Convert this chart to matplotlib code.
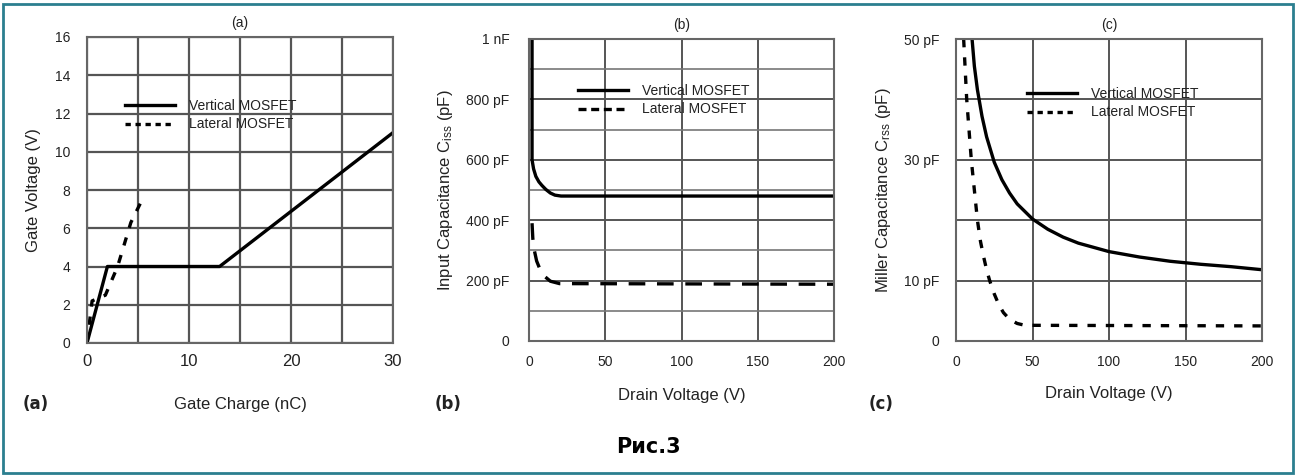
import matplotlib
matplotlib.use("Agg")
import matplotlib.pyplot as plt
from matplotlib.patches import Rectangle
from matplotlib.lines import Line2D

plt.rcParams['font.family'] = ['Liberation Sans Narrow', 'Liberation Sans', 'DejaVu Sans']
plt.rcParams['mathtext.default'] = 'regular'

# (a) gate charge curves
qg_vert = [0, 2, 13, 30]
vg_vert = [0, 4, 4, 11]
qg_lat = [0, 0.5, 1.8, 3.0, 4.3, 5.6]
vg_lat = [0, 2.2, 2.5, 4.0, 6.3, 7.7]

# (b) input capacitance
vd_b_vert = [2, 2, 3, 4.5, 6.5, 8.5, 11, 14, 17, 21, 200]
ciss_vert = [1000, 600, 570, 545, 527, 515, 502, 490, 483, 480, 480]
vd_b_lat = [2, 2.5, 3.5, 5, 7, 10, 14, 20, 200]
ciss_lat = [390, 340, 300, 265, 240, 215, 198, 190, 188]

# (c) miller capacitance
vd_c_vert = [10.5, 12, 14, 17, 20, 25, 30, 35, 40, 50, 60, 70, 80, 100,
             120, 140, 160, 180, 200]
crss_vert = [50, 45.5, 41.6, 37.2, 33.8, 29.6, 26.7, 24.5, 22.7, 20.2, 18.5,
             17.2, 16.2, 14.8, 13.9, 13.2, 12.7, 12.3, 11.8]
vd_c_lat = [5, 6, 7, 8.5, 10, 12, 14, 16, 18, 20, 22, 25, 28, 31, 35, 40, 45, 200]
crss_lat = [50, 45, 40, 35, 30, 25, 20, 16.5, 14, 11.8, 10, 7.8, 6, 4.7, 3.6,
            2.9, 2.6, 2.5]

legend_labels = ['Vertical MOSFET', 'Lateral MOSFET']

W, H = 1296, 475
fig = plt.figure(figsize=(W / 100, H / 100), dpi=100)
fig.patch.set_facecolor('white')

txt = '#222222'
gridc = '#555555'


def make_axes(x0, x1, y_top, y_bot):
    ax = fig.add_axes([x0 / W, 1 - y_bot / H, (x1 - x0) / W, (y_bot - y_top) / H])
    for s in ax.spines.values():
        s.set_color('#666666')
        s.set_linewidth(1.5)
    ax.tick_params(length=0, colors=txt, labelsize=10)
    ax.set_axisbelow(True)
    return ax


def add_legend(ax, bx, by, dash):
    handles = [Line2D([], [], color='black', lw=2.4),
               Line2D([], [], color='black', lw=2.4, linestyle=dash)]
    ax.legend(handles, legend_labels, loc='center left', bbox_to_anchor=(bx, by),
              frameon=False, fontsize=10, handlelength=3.6, handletextpad=1.0,
              borderpad=0, borderaxespad=0, labelspacing=0.35, labelcolor=txt)


# ---- (a) ----
ax1 = make_axes(87, 393, 37, 343)
ax1.plot(qg_vert, vg_vert, color='black', lw=2.4)
ax1.plot(qg_lat, vg_lat, color='black', lw=2.4, linestyle=(0, (2.5, 3)))
ax1.set_xlim(0, 30)
ax1.set_ylim(0, 16)
ax1.set_xticks([0, 10, 20, 30])
ax1.set_xticks([5, 15, 25], minor=True)
ax1.set_yticks(range(0, 17, 2))
ax1.tick_params(axis='x', labelsize=12, pad=8)
ax1.tick_params(axis='x', which='minor', length=0)
ax1.tick_params(axis='y', pad=12)
ax1.grid(True, which='both', color=gridc, lw=1.6)
ax1.set_xlabel('Gate Charge (nC)', fontsize=12, color=txt, labelpad=20)
ax1.set_ylabel('Gate Voltage (V)', fontsize=12, color=txt, labelpad=10)
ax1.set_title('(a)', fontsize=10, color=txt, pad=7)
add_legend(ax1, 0.124, 0.745, (0, (1.6, 1.4)))

# ---- (b) ----
ax2 = make_axes(529, 834, 39, 341)
ax2.plot(vd_b_vert, ciss_vert, color='black', lw=2.4)
ax2.plot(vd_b_lat, ciss_lat, color='black', lw=2.4, linestyle=(0, (5, 3.5)))
ax2.set_xlim(0, 200)
ax2.set_ylim(0, 1000)
ax2.set_xticks([0, 50, 100, 150, 200])
ax2.set_yticks([0, 200, 400, 600, 800, 1000])
ax2.set_yticklabels(['0', '200 pF', '400 pF', '600 pF', '800 pF', '1 nF'])
ax2.set_yticks([100, 300, 500, 700, 900], minor=True)
ax2.tick_params(axis='x', pad=10)
ax2.tick_params(axis='y', pad=14)
ax2.tick_params(which='minor', length=0)
ax2.grid(True, which='major', color=gridc, lw=1.4)
ax2.grid(True, which='minor', axis='y', color='#777777', lw=1.2)
ax2.set_xlabel('Drain Voltage (V)', fontsize=12, color=txt, labelpad=14)
ax2.set_ylabel('Input Capacitance C$_{iss}$ (pF)', fontsize=12, color=txt, labelpad=8)
ax2.set_title('(b)', fontsize=10, color=txt, pad=7)
add_legend(ax2, 0.161, 0.798, (0, (2.4, 1.4)))

# ---- (c) ----
ax3 = make_axes(956, 1262, 39, 341)
ax3.plot(vd_c_vert, crss_vert, color='black', lw=2.4)
ax3.plot(vd_c_lat, crss_lat, color='black', lw=2.4, linestyle=(0, (2.5, 3)))
ax3.set_xlim(0, 200)
ax3.set_ylim(0, 50)
ax3.set_xticks([0, 50, 100, 150, 200])
ax3.set_yticks([0, 10, 30, 50])
ax3.set_yticklabels(['0', '10 pF', '30 pF', '50 pF'])
ax3.set_yticks([20, 40], minor=True)
ax3.tick_params(axis='x', pad=10)
ax3.tick_params(axis='y', pad=12)
ax3.tick_params(which='minor', length=0)
ax3.grid(True, which='both', color=gridc, lw=1.4)
ax3.set_xlabel('Drain Voltage (V)', fontsize=12, color=txt, labelpad=12)
ax3.set_ylabel('Miller Capacitance C$_{rss}$ (pF)', fontsize=12, color=txt, labelpad=8)
ax3.set_title('(c)', fontsize=10, color=txt, pad=7)
add_legend(ax3, 0.232, 0.788, (0, (1.6, 1.4)))

# panel tags and caption
for px, tag in [(36, '(a)'), (448, '(b)'), (881, '(c)')]:
    fig.text(px / W, 1 - 404 / H, tag, ha='center', va='center', fontsize=12,
             fontweight='bold', color=txt, family=['DejaVu Sans'])
fig.text(648 / W, 1 - 447 / H, 'Рис.3', ha='center', va='center', fontsize=15,
         fontweight='bold', color='black', family=['DejaVu Sans'])

# teal frame
fig.patches.append(Rectangle((3 / W, 2 / H), 1290 / W, 469 / H, transform=fig.transFigure,
                             fill=False, edgecolor='#2b7f8f', lw=2))

plt.savefig('out.png', dpi=100)
plt.close()
